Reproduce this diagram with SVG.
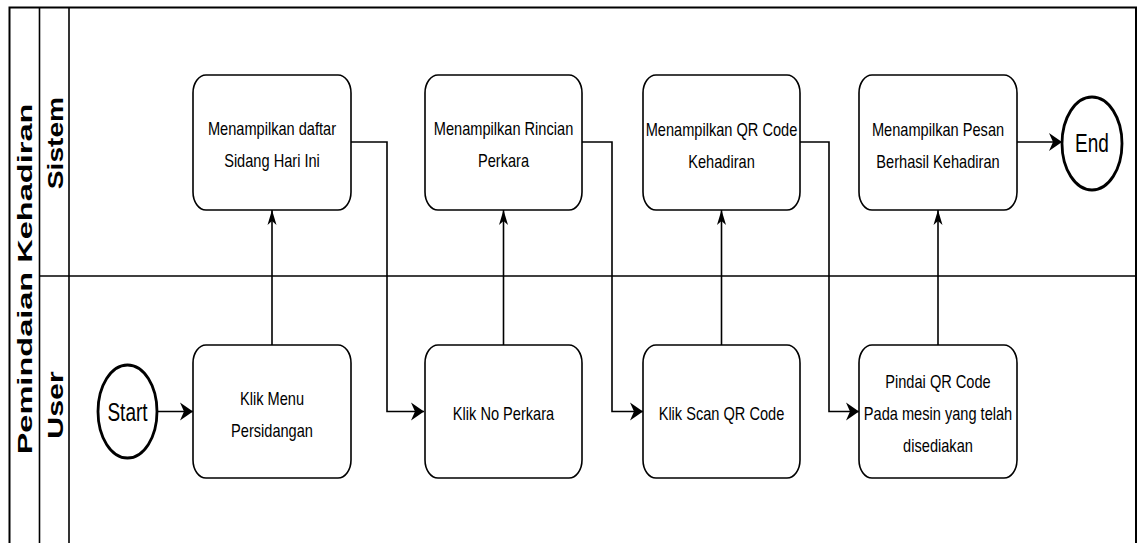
<svg xmlns="http://www.w3.org/2000/svg" width="1141" height="543" viewBox="0 0 1141 543">
<style>
.frame{fill:none;stroke:#000;stroke-width:2}
.lane{fill:none;stroke:#000;stroke-width:1.6}
.box{fill:#fff;stroke:#000;stroke-width:1.6}
.term{fill:#fff;stroke:#000;stroke-width:2.8}
.conn{fill:none;stroke:#000;stroke-width:1.6}
.t{font-family:"Liberation Sans",Arial,sans-serif;font-size:14.6px;fill:#000;text-anchor:middle}
.tt{font-family:"Liberation Sans",Arial,sans-serif;font-size:19px;fill:#000;text-anchor:middle}
.lbl{font-family:"Liberation Sans",Arial,sans-serif;font-weight:bold;fill:#000;text-anchor:middle}
</style>
<defs>
<marker id="arrR" markerUnits="userSpaceOnUse" markerWidth="14" markerHeight="20" refX="13" refY="10" orient="0" overflow="visible">
<path d="M0,1 L13,10 L0,19 L4,10 Z" fill="#000"/>
</marker>
<marker id="arrU" markerUnits="userSpaceOnUse" markerWidth="10" markerHeight="16" refX="4.5" refY="0" orient="0" overflow="visible">
<path d="M4.5,0 L9,15 L4.5,11 L0,15 Z" fill="#000"/>
</marker>
</defs>
<rect width="1141" height="543" fill="#fff"/>
<g id="pool">
<rect class="frame" x="9.5" y="7.5" width="1126.5" height="545"/>
<line class="lane" x1="39.5" y1="7.5" x2="39.5" y2="543"/>
<line class="lane" x1="69" y1="7.5" x2="69" y2="543"/>
<line class="lane" x1="39.5" y1="276" x2="1136" y2="276"/>
<text class="lbl" font-size="21" transform="translate(24.5,279) rotate(-90) scale(1.55,1)" y="7.5">Pemindaian Kehadiran</text>
<text class="lbl" font-size="22" transform="translate(54.5,143) rotate(-90) scale(1.28,1)" y="8">Sistem</text>
<text class="lbl" font-size="22" transform="translate(54.5,405) rotate(-90) scale(1.38,1)" y="8">User</text>
</g>
<g id="connectors">
<path class="conn" d="M157,411.5 H193" marker-end="url(#arrR)"/>
<path class="conn" d="M272,345 V210" marker-end="url(#arrU)"/>
<path class="conn" d="M351,142 H387 V411.5 H424" marker-end="url(#arrR)"/>
<path class="conn" d="M503.5,345 V210" marker-end="url(#arrU)"/>
<path class="conn" d="M582,142 H612 V411.5 H643" marker-end="url(#arrR)"/>
<path class="conn" d="M721.5,345 V210" marker-end="url(#arrU)"/>
<path class="conn" d="M800,142 H829 V411.5 H859" marker-end="url(#arrR)"/>
<path class="conn" d="M938,345 V210" marker-end="url(#arrU)"/>
<path class="conn" d="M1017,142 H1062" marker-end="url(#arrR)"/>
</g>
<g id="start">
<ellipse class="term" cx="127.5" cy="411.5" rx="29.5" ry="46.5"/>
<text class="tt" transform="matrix(1 0 0 1.38 127.5 421)">Start</text>
</g>
<g id="end">
<ellipse class="term" cx="1092" cy="143.5" rx="30" ry="46.5"/>
<text class="tt" transform="matrix(1 0 0 1.38 1092 152)">End</text>
</g>
<g id="s1">
<rect class="box" x="193" y="75" width="158" height="135" rx="13" ry="18"/>
<text class="t" transform="matrix(1 0 0 1.3 272 135)">Menampilkan daftar</text>
<text class="t" transform="matrix(1 0 0 1.3 272 167)">Sidang Hari Ini</text>
</g>
<g id="s2">
<rect class="box" x="425" y="75" width="157" height="135" rx="13" ry="18"/>
<text class="t" transform="matrix(1 0 0 1.3 503.5 135)">Menampilkan Rincian</text>
<text class="t" transform="matrix(1 0 0 1.3 503.5 167)">Perkara</text>
</g>
<g id="s3">
<rect class="box" x="643" y="75" width="157" height="135" rx="13" ry="18"/>
<text class="t" transform="matrix(1 0 0 1.3 721.5 136)">Menampilkan QR Code</text>
<text class="t" transform="matrix(1 0 0 1.3 721.5 168)">Kehadiran</text>
</g>
<g id="s4">
<rect class="box" x="859" y="75" width="158" height="135" rx="13" ry="18"/>
<text class="t" transform="matrix(1 0 0 1.3 938 136)">Menampilkan Pesan</text>
<text class="t" transform="matrix(1 0 0 1.3 938 168)">Berhasil Kehadiran</text>
</g>
<g id="u1">
<rect class="box" x="193" y="345" width="158" height="133" rx="13" ry="18"/>
<text class="t" transform="matrix(1 0 0 1.3 272 405)">Klik Menu</text>
<text class="t" transform="matrix(1 0 0 1.3 272 437)">Persidangan</text>
</g>
<g id="u2">
<rect class="box" x="425" y="345" width="157" height="133" rx="13" ry="18"/>
<text class="t" transform="matrix(1 0 0 1.3 503.5 420)">Klik No Perkara</text>
</g>
<g id="u3">
<rect class="box" x="643" y="345" width="157" height="133" rx="13" ry="18"/>
<text class="t" transform="matrix(1 0 0 1.3 721.5 420)">Klik Scan QR Code</text>
</g>
<g id="u4">
<rect class="box" x="859" y="345" width="158" height="133" rx="13" ry="18"/>
<text class="t" transform="matrix(1 0 0 1.3 938 388)">Pindai QR Code</text>
<text class="t" transform="matrix(1 0 0 1.3 938 420)">Pada mesin yang telah</text>
<text class="t" transform="matrix(1 0 0 1.3 938 452)">disediakan</text>
</g>
</svg>
